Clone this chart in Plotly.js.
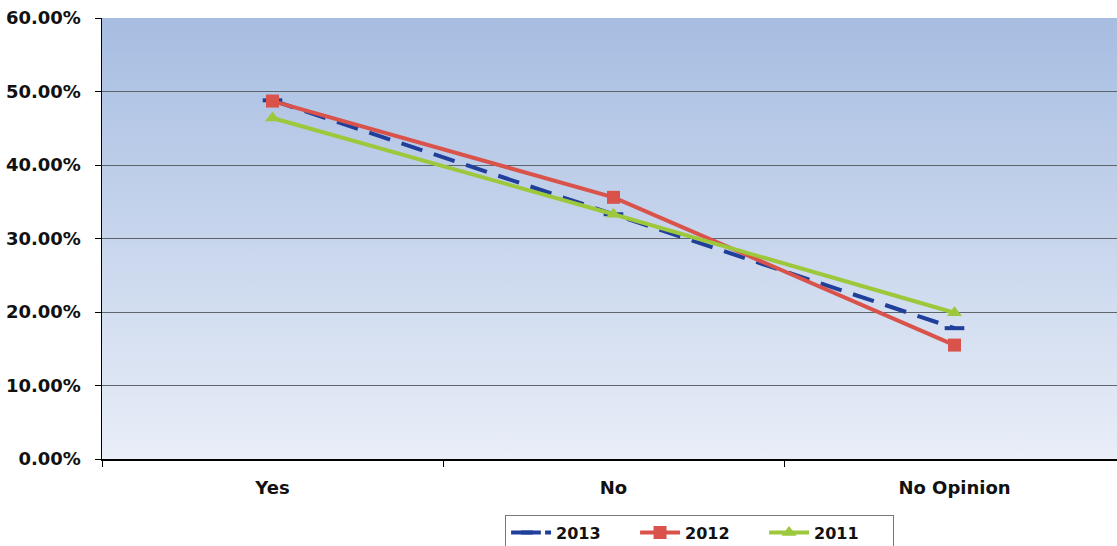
<!DOCTYPE html>
<html>
<head>
<meta charset="utf-8">
<script src="https://cdn.plot.ly/plotly-3.0.1.min.js"></script>
<style>
html,body{margin:0;padding:0;background:#fff;overflow:hidden;}
#chart{width:1125px;height:546px;}
</style>
</head>
<body>
<div id="chart"></div>
<script>
const categories = ["Yes", "No", "No Opinion"];
const seriesNames = ["2013", "2012", "2011"];
const values2013 = [48.8, 33.3, 17.8];
const values2012 = [48.7, 35.6, 15.5];
const values2011 = [46.4, 33.3, 19.9];
const yTickVals = [0, 10, 20, 30, 40, 50, 60];
const yTickText = ["0.00%", "10.00%", "20.00%", "30.00%", "40.00%", "50.00%", "60.00%"];

const gradSvg = '<svg xmlns="http://www.w3.org/2000/svg" width="100" height="100" preserveAspectRatio="none">' +
  '<defs><linearGradient id="g" x1="0" y1="0" x2="0" y2="1">' +
  '<stop offset="0" stop-color="#a6bde1"/><stop offset="1" stop-color="#e9eef8"/>' +
  '</linearGradient></defs><rect width="100" height="100" fill="url(#g)"/></svg>';
const gradUri = 'data:image/svg+xml;base64,' + btoa(gradSvg);

const font = {family: "DejaVu Sans, sans-serif", size: 18, color: "#111", weight: "bold"};

const traces = [
  {
    x: categories, y: values2013, name: seriesNames[0], type: "scatter", mode: "lines+markers",
    line: {color: "#1f3f9a", width: 4, dash: "22px,12px"},
    marker: {symbol: "line-ew", size: 14, line: {color: "#1f3f9a", width: 4}}
  },
  {
    x: categories, y: values2012, name: seriesNames[1], type: "scatter", mode: "lines+markers",
    line: {color: "#d9534a", width: 4},
    marker: {symbol: "square", size: 13, color: "#d9534a"}
  },
  {
    x: categories, y: values2011, name: seriesNames[2], type: "scatter", mode: "lines+markers",
    line: {color: "#9dc83c", width: 4},
    marker: {symbol: "triangle-up", size: 13, color: "#9dc83c"}
  }
];

const layout = {
  width: 1125, height: 546,
  margin: {l: 102, r: 0, t: 18, b: 87, autoexpand: false},
  paper_bgcolor: "#ffffff",
  plot_bgcolor: "rgba(0,0,0,0)",
  font: font,
  showlegend: true,
  images: [{source: gradUri, xref: "paper", yref: "paper", x: 0, y: 1, sizex: 1, sizey: 1,
            sizing: "stretch", layer: "below", xanchor: "left", yanchor: "top"}],
  xaxis: {
    type: "category", range: [-0.5, 2.5], tickson: "boundaries",
    ticks: "outside", ticklen: 6, tickcolor: "#000", ticklabelstandoff: 12,
    showline: true, linecolor: "#000", linewidth: 1.5,
    showgrid: false, tickfont: font, fixedrange: true, automargin: false
  },
  yaxis: {
    range: [0, 60], tickmode: "array", tickvals: yTickVals, ticktext: yTickText,
    ticks: "outside", ticklen: 6, tickcolor: "#000", ticklabelstandoff: 10,
    showline: true, linecolor: "#000", linewidth: 1.5,
    showgrid: true, gridcolor: "#5f646c", gridwidth: 1,
    zeroline: false, tickfont: font, automargin: false
  },
  legend: {
    orientation: "h", x: 0.394, xanchor: "left", y: -0.126, yanchor: "top",
    bordercolor: "#777", borderwidth: 1, bgcolor: "#fff",
    font: {family: "DejaVu Sans, sans-serif", size: 16, color: "#111", weight: "bold"},
    itemwidth: 40, entrywidth: 74, entrywidthmode: "pixels"
  }
};

Plotly.newPlot("chart", traces, layout, {displayModeBar: false, staticPlot: true});
</script>
</body>
</html>
